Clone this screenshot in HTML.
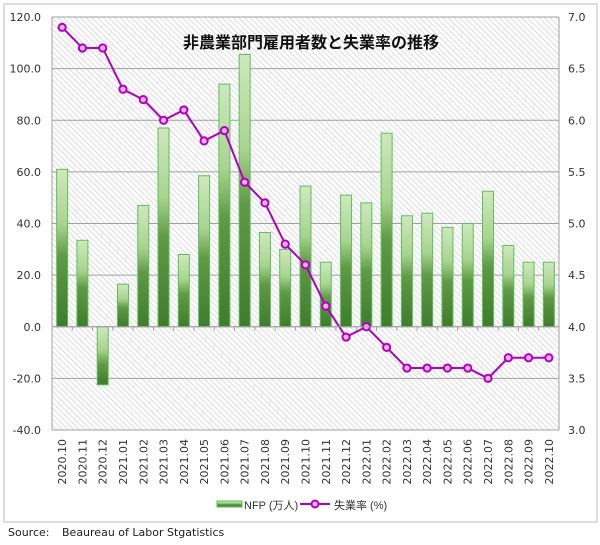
<!DOCTYPE html>
<html><head><meta charset="utf-8">
<style>
html,body{margin:0;padding:0;background:#fff;}
body{width:600px;height:540px;position:relative;font-family:"Liberation Sans","Noto Sans CJK JP",sans-serif;}
svg text{font-family:"DejaVu Sans","Liberation Sans","Noto Sans CJK JP",sans-serif;}
</style></head>
<body>
<svg id="chart" width="600" height="540" xmlns="http://www.w3.org/2000/svg">
<defs>
<pattern id="hatch" width="4" height="4" patternUnits="userSpaceOnUse" patternTransform="rotate(-45)">
<rect width="4" height="4" fill="#ffffff"/>
<line x1="0" y1="0" x2="0" y2="4" stroke="#cfcfcf" stroke-width="1.4"/>
</pattern>
<linearGradient id="barGrad" x1="0" y1="0" x2="0" y2="1">
<stop offset="0" stop-color="#cfe8bd"/>
<stop offset="0.35" stop-color="#a8d48e"/>
<stop offset="0.55" stop-color="#5f9a44"/>
<stop offset="1" stop-color="#3f7c2c"/>
</linearGradient>
<linearGradient id="barGradNeg" x1="0" y1="0" x2="0" y2="1">
<stop offset="0" stop-color="#cfe8bd"/>
<stop offset="0.4" stop-color="#a8d48e"/>
<stop offset="0.65" stop-color="#5f9a44"/>
<stop offset="1" stop-color="#3f7c2c"/>
</linearGradient>
</defs>
<rect x="4" y="4" width="593" height="518" fill="#fff" stroke="#bdbdbd" stroke-width="1"/>
<rect x="52" y="17" width="507" height="413" fill="url(#hatch)"/>
<g id="grid"></g>
<g id="bars"></g>
<g id="line"></g>
<g id="axes"></g>
<text x="311" y="48" text-anchor="middle" font-size="16" font-weight="bold" fill="#111" style="font-family:'Noto Sans CJK JP',sans-serif">非農業部門雇用者数と失業率の推移</text>
<g>
<rect x="217" y="501" width="25" height="6" fill="url(#barGrad)" stroke="#5cbf60" stroke-width="1"/>
<text x="244" y="509" font-size="11" fill="#333" style="font-family:'Liberation Sans','Noto Sans CJK JP',sans-serif">NFP (万人)</text>
<line x1="300" y1="504" x2="330" y2="504" stroke="#b000c0" stroke-width="2"/>
<circle cx="315" cy="504" r="3.5" fill="#f5b0f0" stroke="#b000c0" stroke-width="2"/>
<text x="334" y="509" font-size="11" fill="#333" style="font-family:'Liberation Sans','Noto Sans CJK JP',sans-serif">失業率 (%)</text>
</g>
<line x1="4" y1="522" x2="597" y2="522" stroke="#bdbdbd"/>
<text x="8" y="536" font-size="11" fill="#222">Source:</text>
<text x="62" y="536" font-size="11" fill="#222">Beaureau of Labor Stgatistics</text>
</svg>
<script>
const categories = ["2020.10","2020.11","2020.12","2021.01","2021.02","2021.03","2021.04","2021.05","2021.06","2021.07","2021.08","2021.09","2021.10","2021.11","2021.12","2022.01","2022.02","2022.03","2022.04","2022.05","2022.06","2022.07","2022.08","2022.09","2022.10"];
const nfpValues = [61,33.5,-22.5,16.5,47,77,28,58.5,94,105.5,36.5,30,54.5,25,51,48,75,43,44,38.5,40,52.5,31.5,25,25];
const rateValues = [6.9,6.7,6.7,6.3,6.2,6.0,6.1,5.8,5.9,5.4,5.2,4.8,4.6,4.2,3.9,4.0,3.8,3.6,3.6,3.6,3.6,3.5,3.7,3.7,3.7];
const leftTicks = [-40,-20,0,20,40,60,80,100,120];
const rightTicks = [3.0,3.5,4.0,4.5,5.0,5.5,6.0,6.5,7.0];

const NS = "http://www.w3.org/2000/svg";
const X0 = 52, X1 = 559, YT = 17, YB = 430;
const step = (X1 - X0) / categories.length;
function xPos(i){ return X0 + step * (i + 0.5); }
function yL(v){ return YB - (v - (-40)) / 160 * (YB - YT); }
function yR(v){ return YB - (v - 3) / 4 * (YB - YT); }
function mk(tag, attrs, parent){ const e = document.createElementNS(NS, tag); for (const k in attrs) e.setAttribute(k, attrs[k]); parent.appendChild(e); return e; }

const grid = document.getElementById('grid');
const axes = document.getElementById('axes');
leftTicks.forEach((t) => {
  const y = yL(t);
  const gl = mk('line', {x1:X0, x2:X1, y1:y, y2:y, stroke:'#a0a0a0', 'stroke-width':1}, grid);
  
  
  const tx = mk('text', {x:41, y:y+4, 'text-anchor':'end', 'font-size':11, fill:'#333'}, axes);
  tx.textContent = t.toFixed(1);
  
  
});
rightTicks.forEach((t) => {
  const y = yR(t);
  const tx = mk('text', {x:568, y:y+4, 'text-anchor':'start', 'font-size':11, fill:'#333'}, axes);
  tx.textContent = t.toFixed(1);
  
  
});
mk('line', {x1:X0, x2:X0, y1:YT, y2:YB, stroke:'#a0a0a0'}, axes);
mk('line', {x1:X1, x2:X1, y1:YT, y2:YB, stroke:'#a0a0a0'}, axes);
mk('line', {x1:X0, x2:X1, y1:YB, y2:YB, stroke:'#a0a0a0'}, axes);
const y0 = yL(0);
for (let i = 0; i <= categories.length; i++) {
  const x = X0 + step * i;
  mk('line', {x1:x, x2:x, y1:y0, y2:y0+4, stroke:'#a0a0a0'}, axes);
}
categories.forEach((c, i) => {
  const x = xPos(i);
  const tx = mk('text', {x:0, y:0, 'text-anchor':'end', 'font-size':11, fill:'#333', transform:`translate(${x+4},439) rotate(-90)`}, axes);
  tx.textContent = c;
  
  
});

const bars = document.getElementById('bars');
nfpValues.forEach((v, i) => {
  const x = xPos(i) - 5.5;
  const yv = yL(v);
  const top = Math.min(yv, y0), h = Math.abs(yv - y0);
  const r = mk('rect', {x:x, y:top, width:11, height:h, fill: v >= 0 ? 'url(#barGrad)' : 'url(#barGradNeg)', stroke:'#5cbf60', 'stroke-width':1}, bars);
  
  
});
mk('line', {x1:X0, x2:X1, y1:y0, y2:y0, stroke:'#a0a0a0'}, axes);

const lineG = document.getElementById('line');
const pts = rateValues.map((v, i) => xPos(i) + ',' + yR(v)).join(' ');
const pl = mk('polyline', {points:pts, fill:'none', stroke:'#b000c0', 'stroke-width':2}, lineG);


rateValues.forEach((v, i) => {
  const c = mk('circle', {cx:xPos(i), cy:yR(v), r:3.6, fill:'#f5b0f0', stroke:'#b000c0', 'stroke-width':2}, lineG);
  
  
});
</script>
</body></html>
